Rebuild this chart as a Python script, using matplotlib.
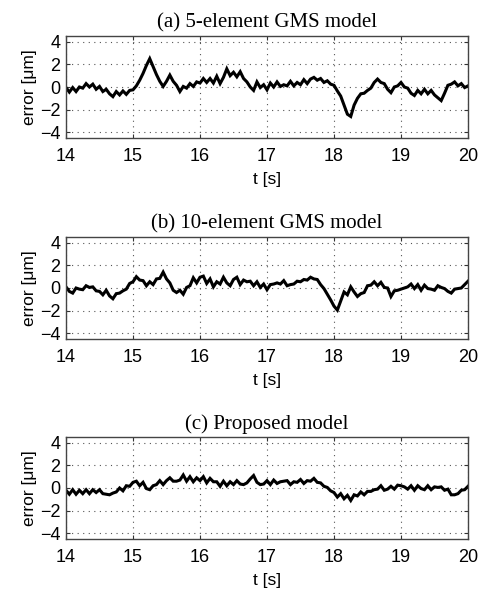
import numpy as np
import matplotlib
matplotlib.use("Agg")
import matplotlib.pyplot as plt

# time axis (s), 0.05 s steps from 14 to 20
t = np.linspace(14.0, 20.0, 121)

err_a = [
    -0.05, -0.45, -0.05, -0.4, 0.0, -0.1, 0.3, 0.0, 0.25, -0.2,
    0.05, -0.4, -0.2, -0.6, -0.85, -0.4, -0.7, -0.35, -0.65, -0.3,
    -0.25, 0.1, 0.6, 1.2, 1.9, 2.5, 1.8, 1.1, 0.5, 0.05,
    0.5, 1.05, 0.5, 0.15, -0.4, 0.05, -0.1, 0.3, 0.05, 0.45,
    0.35, 0.75, 0.4, 0.75, 0.35, 0.95, 0.3, 0.85, 1.6, 1.0,
    1.3, 0.9, 1.35, 0.75, 0.45, 0.0, -0.3, 0.45, -0.05, 0.2,
    -0.25, 0.35, 0.0, 0.45, 0.05, 0.2, 0.1, 0.5, 0.1, 0.4,
    0.2, 0.65, 0.3, 0.7, 0.85, 0.6, 0.75, 0.4, 0.55, 0.25,
    0.15, -0.35, -0.8, -1.6, -2.4, -2.6, -1.6, -1.0, -0.6, -0.55,
    -0.3, -0.1, 0.4, 0.7, 0.4, 0.3, -0.2, -0.5, 0.0, 0.1,
    0.4, 0.0, -0.1, -0.55, -0.75, -0.3, -0.6, -0.2, -0.6, -0.3,
    -0.7, -0.95, -1.2, -0.55, 0.15, 0.25, 0.45, 0.1, 0.3, -0.05,
    0.1,
]

err_b = [
    0.1, -0.3, -0.45, 0.0, -0.1, -0.15, 0.2, 0.05, 0.1, -0.25,
    -0.3, -0.6, -0.2, -0.7, -0.95, -0.5, -0.45, -0.25, -0.1, 0.4,
    0.55, 1.0, 0.7, 0.65, 0.2, 0.55, 0.3, 0.8, 0.85, 1.4,
    0.8, 0.45, -0.2, -0.4, -0.2, -0.55, 0.05, 0.2, 0.9, 0.45,
    0.95, 1.05, 0.4, 0.8, 0.1, 0.55, 0.35, 0.95, 0.45, 0.2,
    0.75, 0.95, 0.3, 0.7, 0.55, 0.6, 0.2, 0.55, 0.05, 0.35,
    -0.15, 0.3, 0.35, 0.45, 0.35, 0.65, 0.2, 0.3, 0.35, 0.6,
    0.55, 0.75, 0.7, 0.95, 0.8, 0.75, 0.3, -0.05, -0.55, -1.05,
    -1.6, -1.95, -1.15, -0.35, -0.6, 0.1, -0.35, -0.75, -0.5, -0.4,
    0.2, 0.25, 0.55, 0.2, 0.5, 0.05, 0.0, -0.75, -0.25, -0.2,
    -0.1, 0.0, 0.1, 0.35, -0.05, 0.3, -0.2, 0.25, -0.05, -0.1,
    -0.2, 0.2, 0.05, -0.05, -0.3, -0.45, -0.1, -0.05, 0.0, 0.3,
    0.6,
]

err_c = [
    -0.2, -0.55, -0.15, -0.55, -0.2, -0.5, -0.15, -0.5, -0.15, -0.4,
    -0.15, -0.5, -0.55, -0.6, -0.45, -0.35, 0.0, -0.25, 0.2, 0.15,
    0.5, 0.6, 0.2, 0.5, -0.05, -0.15, 0.2, 0.3, 0.65, 0.3,
    0.65, 0.9, 0.6, 0.6, 0.7, 1.15, 0.6, 1.0, 0.55, 0.9,
    0.65, 1.0, 0.45, 0.85, 0.55, 0.55, 0.15, 0.6, 0.2, 0.55,
    0.3, 0.65, 0.35, 0.3, 0.45, 0.8, 1.1, 0.5, 0.3, 0.35,
    0.65, 0.3, 0.7, 0.4, 0.55, 0.6, 0.65, 0.3, 0.55, 0.5,
    0.75, 0.4, 0.65, 0.6, 0.85, 0.5, 0.45, 0.15, 0.05, -0.25,
    -0.4, -0.8, -0.5, -0.95, -0.65, -1.1, -0.6, -0.7, -0.35, -0.6,
    -0.3, -0.3, -0.15, -0.1, 0.2, -0.2, -0.1, 0.15, -0.1, 0.25,
    0.2, 0.1, -0.1, 0.2, -0.2, 0.2, -0.05, -0.15, 0.2, -0.15,
    0.1, 0.05, 0.1, -0.2, -0.1, -0.6, -0.6, -0.5, -0.2, -0.15,
    0.15,
]

titles = ["(a) 5-element GMS model", "(b) 10-element GMS model", "(c) Proposed model"]
series = [err_a, err_b, err_c]
xticks = [14, 15, 16, 17, 18, 19, 20]
yticks = [-4, -2, 0, 2, 4]
ytick_labels = ["\u22124", "\u22122", "0", "2", "4"]
ylabel = "error [\u03bcm]"
xlabel = "t [s]"

W, H = 480, 590
fig = plt.figure(figsize=(W / 100, H / 100), dpi=100)

left_px, right_px = 66, 468
tops_px = [36, 237, 437]
h_px = 102

for i in range(3):
    top = tops_px[i]
    ax = fig.add_axes([left_px / W, 1 - (top + h_px) / H,
                       (right_px - left_px) / W, h_px / H])
    ax.plot(t, series[i], color="black", linewidth=2.2, solid_joinstyle="miter")
    ax.set_xlim(14, 20)
    ax.set_ylim(-4.5, 4.5)
    ax.set_xticks(xticks)
    ax.set_yticks(yticks)
    ax.set_yticklabels(ytick_labels)
    ax.grid(True, linestyle=(0, (1, 4)), color="#555555", linewidth=0.8)
    ax.tick_params(direction="in", length=3, top=True, right=True,
                   labelsize=13, color="#333333", width=0.8)
    ax.tick_params(axis="x", pad=7)
    ax.tick_params(axis="y", pad=4)
    for lab in ax.get_xticklabels() + ax.get_yticklabels():
        lab.set_family("Liberation Sans")
    for sp in ax.spines.values():
        sp.set_color("#444444")
        sp.set_linewidth(1.0)
    ax.set_ylabel(ylabel, fontsize=12.5, family="Liberation Sans", labelpad=2)
    ax.set_xlabel(xlabel, fontsize=12.5, family="Liberation Sans", labelpad=5)
    ax.set_title(titles[i], fontsize=15, family="Liberation Serif", pad=6)

fig.savefig("out.png", dpi=100, facecolor="white")
